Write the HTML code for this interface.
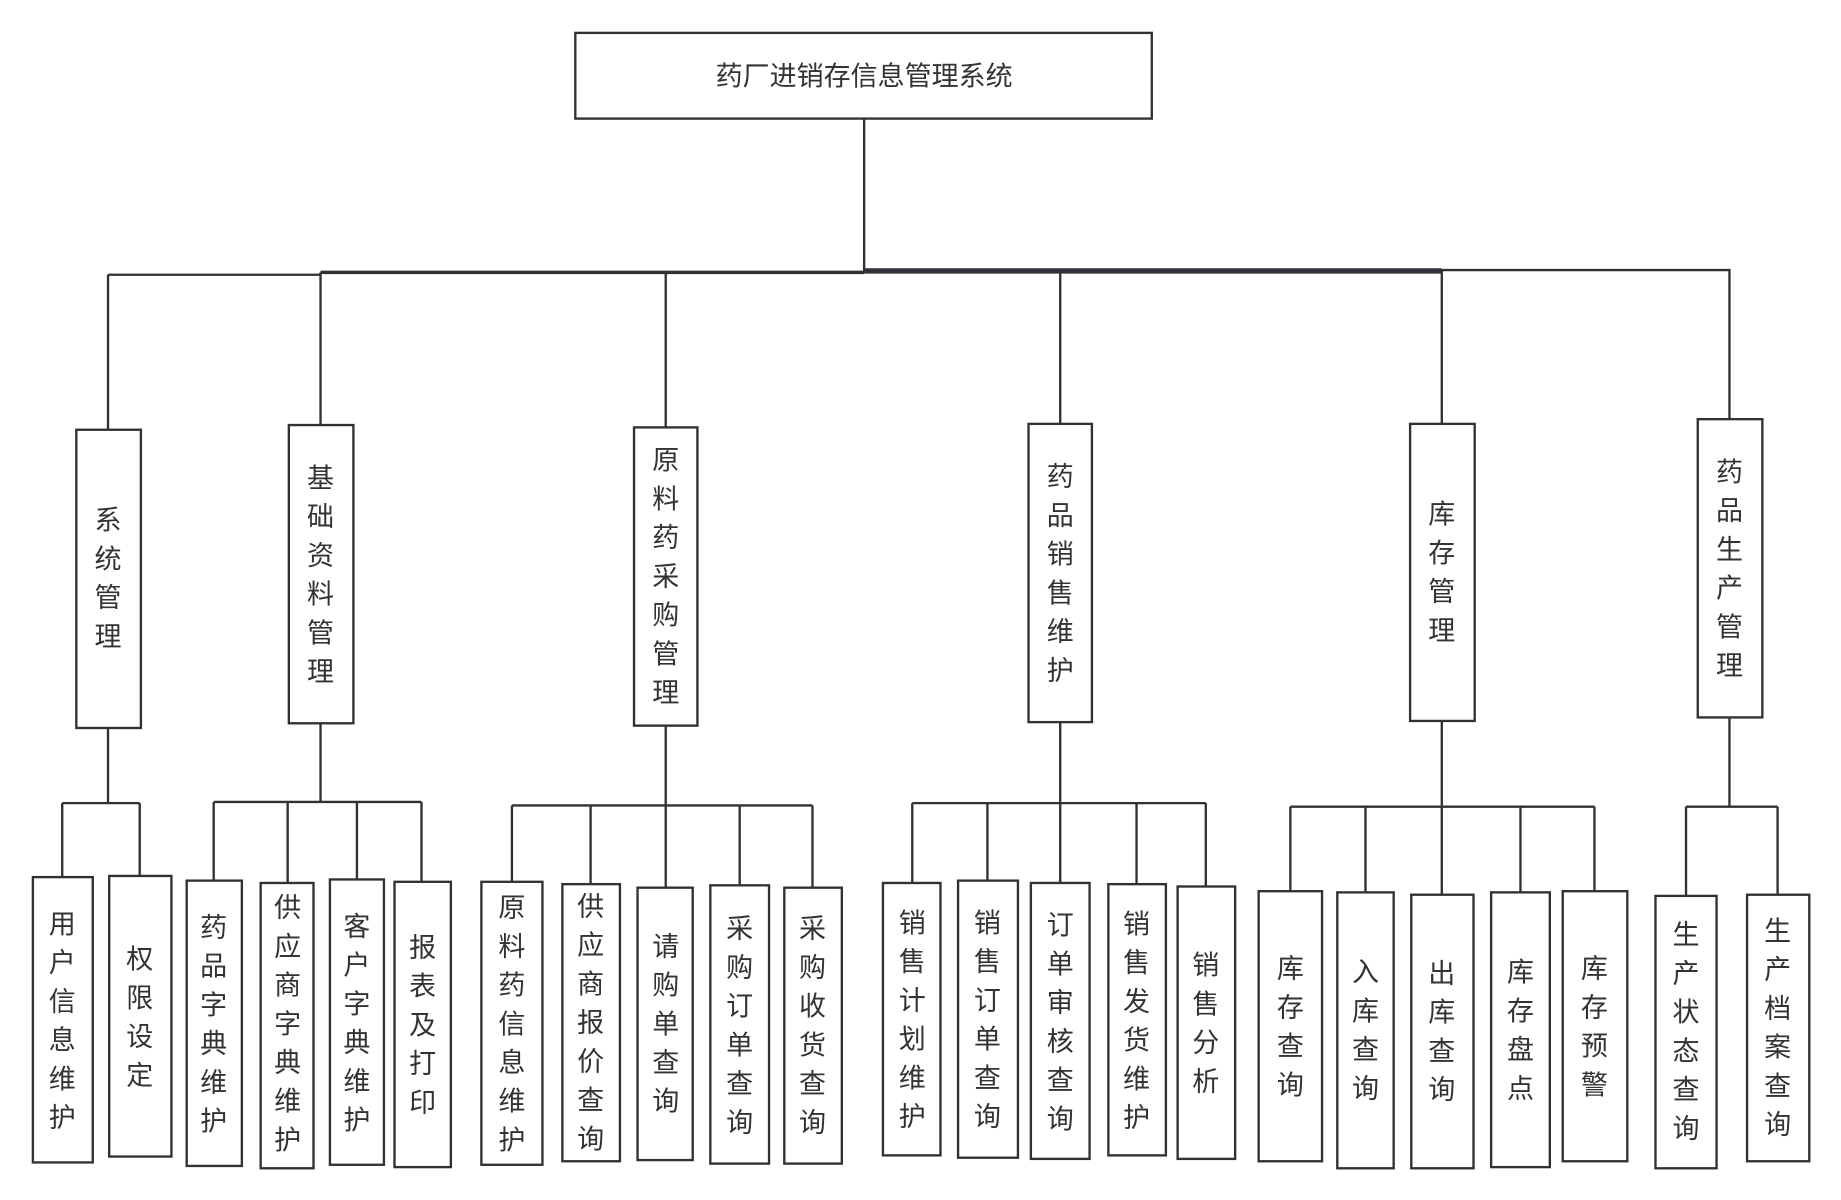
<!DOCTYPE html>
<html><head><meta charset="utf-8"><style>
html,body{margin:0;padding:0;background:#fff;}
svg{display:block}
text{font-family:"Liberation Sans","Noto Sans CJK SC",sans-serif;fill:#333;font-size:23px;text-anchor:middle}
</style></head><body>
<svg width="1841" height="1200" viewBox="0 0 1568 1022" preserveAspectRatio="none" xmlns="http://www.w3.org/2000/svg">
<g fill="#fff" stroke="#2e3236" stroke-width="2">
<rect x="490" y="28" width="491" height="73"/>
<path fill="none" d="M736 101V232 M92 234H273 M273 232H1228 M1228 230H1473V357 M92 234V366 M273 232V362 M567 232V364 M903 232V361 M1228 230V361"/>
<path fill="none" stroke-width="3" d="M273 232H736 M736 230H1228"/>
<path fill="none" d="M92 620V684 M53 684H119 M53 684V747 M119 684V746
M273 616V683 M182 683H359 M182 683V750 M245 683V752 M304 683V749 M359 683V751
M567 618V686 M436 686H692 M436 686V751 M503 686V753 M567 686V756 M630 686V754 M692 686V756
M903 615V684 M777 684H1027 M777 684V752 M841 684V750 M903 684V752 M968 684V753 M1027 684V755
M1228 614V687 M1099 687H1358 M1099 687V759 M1163 687V760 M1228 687V762 M1295 687V760 M1358 687V759
M1473 611V687 M1436 687H1514 M1436 687V763 M1514 687V762"/>
<rect x="65" y="366" width="55" height="254"/>
<rect x="246" y="362" width="55" height="254"/>
<rect x="540" y="364" width="54" height="254"/>
<rect x="876" y="361" width="54" height="254"/>
<rect x="1201" y="361" width="55" height="253"/>
<rect x="1446" y="357" width="55" height="254"/>
<rect x="28" y="747" width="51" height="243"/>
<rect x="93" y="746" width="53" height="239"/>
<rect x="159" y="750" width="47" height="243"/>
<rect x="222" y="752" width="45" height="243"/>
<rect x="281" y="749" width="46" height="243"/>
<rect x="336" y="751" width="48" height="243"/>
<rect x="410" y="751" width="52" height="241"/>
<rect x="479" y="753" width="49" height="236"/>
<rect x="543" y="756" width="47" height="232"/>
<rect x="605" y="754" width="50" height="237"/>
<rect x="668" y="756" width="49" height="235"/>
<rect x="752" y="752" width="49" height="232"/>
<rect x="816" y="750" width="51" height="236"/>
<rect x="878" y="752" width="50" height="235"/>
<rect x="944" y="753" width="49" height="231"/>
<rect x="1003" y="755" width="49" height="232"/>
<rect x="1072" y="759" width="54" height="230"/>
<rect x="1139" y="760" width="48" height="235"/>
<rect x="1202" y="762" width="53" height="233"/>
<rect x="1270" y="760" width="50" height="234"/>
<rect x="1331" y="759" width="55" height="230"/>
<rect x="1410" y="763" width="52" height="232"/>
<rect x="1488" y="762" width="53" height="227"/>
</g>
<text x="736" y="73">药厂进销存信息管理系统</text>
<text y="451"><tspan x="92">系</tspan><tspan x="92" dy="33">统</tspan><tspan x="92" dy="33">管</tspan><tspan x="92" dy="33">理</tspan></text>
<text y="415"><tspan x="273">基</tspan><tspan x="273" dy="33">础</tspan><tspan x="273" dy="33">资</tspan><tspan x="273" dy="33">料</tspan><tspan x="273" dy="33">管</tspan><tspan x="273" dy="33">理</tspan></text>
<text y="400"><tspan x="567">原</tspan><tspan x="567" dy="33">料</tspan><tspan x="567" dy="33">药</tspan><tspan x="567" dy="33">采</tspan><tspan x="567" dy="33">购</tspan><tspan x="567" dy="33">管</tspan><tspan x="567" dy="33">理</tspan></text>
<text y="414"><tspan x="903">药</tspan><tspan x="903" dy="33">品</tspan><tspan x="903" dy="33">销</tspan><tspan x="903" dy="33">售</tspan><tspan x="903" dy="33">维</tspan><tspan x="903" dy="33">护</tspan></text>
<text y="446"><tspan x="1228">库</tspan><tspan x="1228" dy="33">存</tspan><tspan x="1228" dy="33">管</tspan><tspan x="1228" dy="33">理</tspan></text>
<text y="410"><tspan x="1473">药</tspan><tspan x="1473" dy="33">品</tspan><tspan x="1473" dy="33">生</tspan><tspan x="1473" dy="33">产</tspan><tspan x="1473" dy="33">管</tspan><tspan x="1473" dy="33">理</tspan></text>
<text y="795"><tspan x="53">用</tspan><tspan x="53" dy="33">户</tspan><tspan x="53" dy="33">信</tspan><tspan x="53" dy="33">息</tspan><tspan x="53" dy="33">维</tspan><tspan x="53" dy="33">护</tspan></text>
<text y="825"><tspan x="119">权</tspan><tspan x="119" dy="33">限</tspan><tspan x="119" dy="33">设</tspan><tspan x="119" dy="33">定</tspan></text>
<text y="798"><tspan x="182">药</tspan><tspan x="182" dy="33">品</tspan><tspan x="182" dy="33">字</tspan><tspan x="182" dy="33">典</tspan><tspan x="182" dy="33">维</tspan><tspan x="182" dy="33">护</tspan></text>
<text y="781"><tspan x="245">供</tspan><tspan x="245" dy="33">应</tspan><tspan x="245" dy="33">商</tspan><tspan x="245" dy="33">字</tspan><tspan x="245" dy="33">典</tspan><tspan x="245" dy="33">维</tspan><tspan x="245" dy="33">护</tspan></text>
<text y="797"><tspan x="304">客</tspan><tspan x="304" dy="33">户</tspan><tspan x="304" dy="33">字</tspan><tspan x="304" dy="33">典</tspan><tspan x="304" dy="33">维</tspan><tspan x="304" dy="33">护</tspan></text>
<text y="815"><tspan x="360">报</tspan><tspan x="360" dy="33">表</tspan><tspan x="360" dy="33">及</tspan><tspan x="360" dy="33">打</tspan><tspan x="360" dy="33">印</tspan></text>
<text y="781"><tspan x="436">原</tspan><tspan x="436" dy="33">料</tspan><tspan x="436" dy="33">药</tspan><tspan x="436" dy="33">信</tspan><tspan x="436" dy="33">息</tspan><tspan x="436" dy="33">维</tspan><tspan x="436" dy="33">护</tspan></text>
<text y="780"><tspan x="503">供</tspan><tspan x="503" dy="33">应</tspan><tspan x="503" dy="33">商</tspan><tspan x="503" dy="33">报</tspan><tspan x="503" dy="33">价</tspan><tspan x="503" dy="33">查</tspan><tspan x="503" dy="33">询</tspan></text>
<text y="814"><tspan x="567">请</tspan><tspan x="567" dy="33">购</tspan><tspan x="567" dy="33">单</tspan><tspan x="567" dy="33">查</tspan><tspan x="567" dy="33">询</tspan></text>
<text y="799"><tspan x="630">采</tspan><tspan x="630" dy="33">购</tspan><tspan x="630" dy="33">订</tspan><tspan x="630" dy="33">单</tspan><tspan x="630" dy="33">查</tspan><tspan x="630" dy="33">询</tspan></text>
<text y="799"><tspan x="692">采</tspan><tspan x="692" dy="33">购</tspan><tspan x="692" dy="33">收</tspan><tspan x="692" dy="33">货</tspan><tspan x="692" dy="33">查</tspan><tspan x="692" dy="33">询</tspan></text>
<text y="794"><tspan x="777">销</tspan><tspan x="777" dy="33">售</tspan><tspan x="777" dy="33">计</tspan><tspan x="777" dy="33">划</tspan><tspan x="777" dy="33">维</tspan><tspan x="777" dy="33">护</tspan></text>
<text y="794"><tspan x="841">销</tspan><tspan x="841" dy="33">售</tspan><tspan x="841" dy="33">订</tspan><tspan x="841" dy="33">单</tspan><tspan x="841" dy="33">查</tspan><tspan x="841" dy="33">询</tspan></text>
<text y="796"><tspan x="903">订</tspan><tspan x="903" dy="33">单</tspan><tspan x="903" dy="33">审</tspan><tspan x="903" dy="33">核</tspan><tspan x="903" dy="33">查</tspan><tspan x="903" dy="33">询</tspan></text>
<text y="795"><tspan x="968">销</tspan><tspan x="968" dy="33">售</tspan><tspan x="968" dy="33">发</tspan><tspan x="968" dy="33">货</tspan><tspan x="968" dy="33">维</tspan><tspan x="968" dy="33">护</tspan></text>
<text y="830"><tspan x="1027">销</tspan><tspan x="1027" dy="33">售</tspan><tspan x="1027" dy="33">分</tspan><tspan x="1027" dy="33">析</tspan></text>
<text y="833"><tspan x="1099">库</tspan><tspan x="1099" dy="33">存</tspan><tspan x="1099" dy="33">查</tspan><tspan x="1099" dy="33">询</tspan></text>
<text y="836"><tspan x="1163">入</tspan><tspan x="1163" dy="33">库</tspan><tspan x="1163" dy="33">查</tspan><tspan x="1163" dy="33">询</tspan></text>
<text y="837"><tspan x="1228">出</tspan><tspan x="1228" dy="33">库</tspan><tspan x="1228" dy="33">查</tspan><tspan x="1228" dy="33">询</tspan></text>
<text y="836"><tspan x="1295">库</tspan><tspan x="1295" dy="33">存</tspan><tspan x="1295" dy="33">盘</tspan><tspan x="1295" dy="33">点</tspan></text>
<text y="833"><tspan x="1358">库</tspan><tspan x="1358" dy="33">存</tspan><tspan x="1358" dy="33">预</tspan><tspan x="1358" dy="33">警</tspan></text>
<text y="804"><tspan x="1436">生</tspan><tspan x="1436" dy="33">产</tspan><tspan x="1436" dy="33">状</tspan><tspan x="1436" dy="33">态</tspan><tspan x="1436" dy="33">查</tspan><tspan x="1436" dy="33">询</tspan></text>
<text y="801"><tspan x="1514">生</tspan><tspan x="1514" dy="33">产</tspan><tspan x="1514" dy="33">档</tspan><tspan x="1514" dy="33">案</tspan><tspan x="1514" dy="33">查</tspan><tspan x="1514" dy="33">询</tspan></text>
</svg>
</body></html>
